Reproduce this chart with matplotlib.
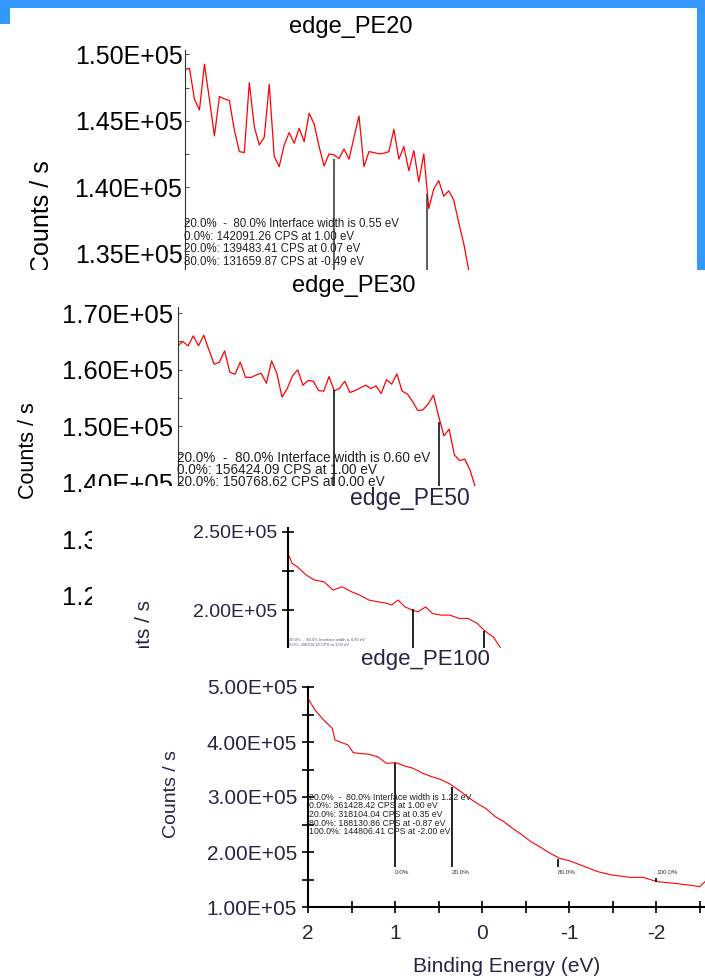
import numpy as np
import matplotlib
matplotlib.use("Agg")
import matplotlib.pyplot as plt
from matplotlib.patches import Rectangle
from matplotlib.ticker import FixedLocator, FixedFormatter
from matplotlib.transforms import Bbox, TransformedBbox

plt.rcParams['font.family'] = ['Liberation Sans', 'DejaVu Sans']

# =========================
# DATA (counts in kCPS, energy in eV)
# =========================
pe20_cps = [148.82, 148.95, 146.62, 145.81, 149.25, 146.6, 143.86, 146.82, 146.64, 146.52,
            144.31, 142.68, 142.61, 147.87, 144.56, 143.18, 143.76, 147.74, 142.31, 141.55,
            143.18, 144.11, 143.31, 144.44, 143.43, 145.56, 144.76, 143.06, 141.60, 142.51,
            142.43, 142.16, 142.88, 142.11, 143.76, 145.36, 141.55, 142.68, 142.61, 142.51,
            142.56, 142.68, 144.36, 142.11, 143.06, 141.25, 142.76, 140.40, 142.51, 138.40,
            139.88, 140.50, 139.32, 139.73, 139.05, 137.35, 135.79, 133.79, 131.5]
pe20_start, pe20_step = 2.5, 0.05
pe20_mark_ev = [1.00, 0.07, -0.49]
pe20_mark_cps = [142.09, 139.48, 131.66]
pe20_yticks = [135, 140, 145, 150]
pe20_ylabels = ['1.35E+05', '1.40E+05', '1.45E+05', '1.50E+05']
pe20_lines = ['20.0%  -  80.0% Interface width is 0.55 eV',
              '0.0%: 142091.26 CPS at 1.00 eV',
              '20.0%: 139483.41 CPS at 0.07 eV',
              '80.0%: 131659.87 CPS at -0.49 eV']

pe30_cps = [164.22, 164.99, 164.22, 165.99, 164.22, 166.11, 163.51, 160.97, 161.33, 163.33,
            159.56, 159.20, 161.33, 158.67, 158.61, 159.03, 159.38, 157.61, 161.56, 159.38,
            155.13, 156.67, 158.91, 159.97, 157.26, 158.08, 157.96, 156.31, 156.19, 158.79,
            156.25, 156.67, 157.96, 155.96, 156.31, 156.78, 157.26, 156.67, 157.14, 155.78,
            158.26, 157.43, 159.26, 156.19, 155.72, 154.37, 152.77, 152.89, 153.95, 155.49,
            151.71, 148.29, 149.47, 144.93, 143.92, 144.16, 142.27, 139.20, 135.5]
pe30_start, pe30_step = 2.5, 0.05
pe30_mark_ev = [1.00, 0.00]
pe30_mark_cps = [156.42, 150.77]
pe30_yticks = [120, 130, 140, 150, 160, 170]
pe30_ylabels = ['1.20E+05', '1.30E+05', '1.40E+05', '1.50E+05', '1.60E+05', '1.70E+05']
pe30_lines = ['20.0%  -  80.0% Interface width is 0.60 eV',
              '0.0%: 156424.09 CPS at 1.00 eV',
              '20.0%: 150768.62 CPS at 0.00 eV']

pe50_energy = [2.50, 2.45, 2.39, 2.28, 2.18, 2.07, 1.96, 1.85, 1.74, 1.64, 1.53, 1.42, 1.31, 1.26, 1.18,
               1.10, 0.99, 0.94, 0.85, 0.77, 0.67, 0.56, 0.45, 0.34, 0.23, 0.15, 0.10, 0.04, -0.04, -0.09]
pe50_cps = [236.2, 229.8, 227.7, 222.3, 219.1, 218.1, 212.8, 214.9, 211.7, 209.6, 206.4, 205.3, 204.3,
            203.2, 206.4, 202.1, 199.6, 198.9, 202.1, 197.9, 196.8, 196.8, 194.7, 194.7, 191.5, 187.2,
            185.1, 183.0, 176.6, 170.2]
pe50_mark_ev = [1.00, 0.15]
pe50_mark_cps = [200.7, 186.6]
pe50_yticks = [200, 250]
pe50_ylabels = ['2.00E+05', '2.50E+05']
pe50_lines = ['20.0%  -  80.0% Interface width is 0.85 eV',
              '0.0%: 200704.18 CPS at 1.00 eV']

pe100_energy = [2.00, 1.92, 1.82, 1.72, 1.69, 1.61, 1.54, 1.48, 1.41, 1.30, 1.20, 1.10, 0.99, 0.89,
                0.79, 0.68, 0.58, 0.48, 0.37, 0.27, 0.17, 0.06, -0.04, -0.15, -0.25, -0.35, -0.46,
                -0.56, -0.66, -0.77, -0.89, -1.00, -1.13, -1.23, -1.33, -1.49, -1.70, -1.85, -2.01,
                -2.21, -2.37, -2.50, -2.56]
pe100_cps = [479.4, 458.2, 440.0, 424.8, 403.6, 398.8, 394.5, 380.6, 379.4, 377.6, 373.3, 361.2,
             362.4, 356.4, 352.1, 343.0, 337.0, 332.1, 323.6, 312.7, 300.6, 288.5, 279.4, 264.2,
             255.2, 243.0, 230.9, 218.8, 209.7, 198.8, 188.5, 184.2, 176.4, 170.3, 164.2, 158.2,
             153.9, 153.9, 146.1, 143.0, 140.0, 137.0, 146.1]
pe100_mark_ev = [1.00, 0.35, -0.87, -2.00]
pe100_mark_cps = [361.43, 318.10, 188.13, 144.81]
pe100_mark_end = [173, 173, 173, 153]
pe100_mark_labels = ['0.0%', '20.0%', '80.0%', '100.0%']
pe100_yticks = [100, 200, 300, 400, 500]
pe100_ylabels = ['1.00E+05', '2.00E+05', '3.00E+05', '4.00E+05', '5.00E+05']
pe100_xticks = [2, 1, 0, -1, -2]
pe100_xlabels = ['2', '1', '0', '-1', '-2']
pe100_lines = ['20.0%  -  80.0% Interface width is 1.22 eV',
               '0.0%: 361428.42 CPS at 1.00 eV',
               '20.0%: 318104.04 CPS at 0.35 eV',
               '80.0%: 188130.86 CPS at -0.87 eV',
               '100.0%: 144806.41 CPS at -2.00 eV']

pe20_energy = np.round(pe20_start - pe20_step * np.arange(len(pe20_cps)), 2)
pe30_energy = np.round(pe30_start - pe30_step * np.arange(len(pe30_cps)), 2)

# =========================
# Layout helpers (pixels -> figure fraction)
# =========================
W, H = 705, 980
fig = plt.figure(figsize=(W / 100, H / 100), dpi=100)
fig.patch.set_facecolor('white')


def rect(x0, y0, x1, y1):
    return [x0 / W, 1 - y1 / H, (x1 - x0) / W, (y1 - y0) / H]


def fx(x):
    return x / W


def fy(y):
    return 1 - y / H


def cover(x0, y0, x1, y1, z, color='white'):
    fig.add_artist(Rectangle((fx(x0), fy(y1)), (x1 - x0) / W, (y1 - y0) / H,
                             transform=fig.transFigure, facecolor=color,
                             edgecolor='none', zorder=z))


def clip_to(x0, y0, x1, y1):
    return TransformedBbox(Bbox([[fx(x0), fy(y1)], [fx(x1), fy(y0)]]), fig.transFigure)


def set_yticks(ax, major, labels, minor):
    ax.yaxis.set_major_locator(FixedLocator(major))
    ax.yaxis.set_major_formatter(FixedFormatter(labels))
    ax.yaxis.set_minor_locator(FixedLocator(minor))


def only_left(ax, lw, color):
    for s in ['top', 'right', 'bottom']:
        ax.spines[s].set_visible(False)
    ax.spines['left'].set_linewidth(lw)
    ax.spines['left'].set_color(color)
    ax.set_xticks([])


blue = '#3399ff'
dark = '#2a2345'

# blue window frame
cover(0, 0, 705, 8, 0.5, blue)
cover(0, 0, 10, 24, 0.5, blue)
cover(697, 0, 705, 271, 0.5, blue)

# =========================
# Panel 1: edge_PE20
# =========================
ax1 = fig.add_axes(rect(184.5, 50, 697, 270), zorder=1)
ax1.patch.set_visible(False)
ax1.plot(pe20_energy, pe20_cps, color='red', lw=0.9)
ax1.vlines(pe20_mark_ev, 120, pe20_mark_cps, color='#333333', lw=1.1)
ax1.set_xlim(2.5, -2.64)
ax1.set_ylim(133.78, 150.32)
set_yticks(ax1, pe20_yticks, pe20_ylabels, [137.5, 142.5, 147.5])
ax1.tick_params(axis='y', which='both', direction='in', length=3, width=0.8,
                color='#555555', labelsize=18, pad=1.5)
only_left(ax1, 0.8, '#333333')
ax1.text(fx(351), fy(32.5), 'edge_PE20', transform=fig.transFigure,
         ha='center', va='baseline', fontsize=17)
yl1 = ax1.text(fx(42), fy(160), 'Counts / s', transform=fig.transFigure,
               rotation=90, ha='center', va='top', fontsize=18)
yl1.set_clip_box(clip_to(0, 8, 697, 270))
for i, s in enumerate(pe20_lines):
    ax1.text(fx(184), fy(224 + 12.6 * i), s, transform=fig.transFigure,
             ha='left', va='center', fontsize=8.3, color='#222222')

# =========================
# Panel 2: edge_PE30
# =========================
cover(0, 270, 705, 980, 2)
ax2 = fig.add_axes(rect(177.6, 307, 705, 625), zorder=3)
ax2.patch.set_visible(False)
ax2.plot(pe30_energy, pe30_cps, color='red', lw=0.9)
ax2.vlines(pe30_mark_ev, 100, pe30_mark_cps, color='black', lw=1.1)
ax2.set_xlim(2.5, -2.55)
ax2.set_ylim(114.8, 171.1)
set_yticks(ax2, pe30_yticks, pe30_ylabels, [115, 125, 135, 145, 155, 165])
ax2.tick_params(axis='y', which='both', direction='in', length=3, width=0.8,
                color='#555555', labelsize=18.5, pad=3.3)
only_left(ax2, 0.8, '#333333')
# the two lowest labels sit under the PE50 window, only their left ends show
for tick in ax2.yaxis.get_major_ticks()[:2]:
    tick.label1.set_clip_on(True)
    tick.label1.set_clip_box(clip_to(0, 270, 92, 648))
ax2.text(fx(354), fy(291.7), 'edge_PE30', transform=fig.transFigure,
         ha='center', va='baseline', fontsize=17)
ax2.text(fx(28), fy(451), 'Counts / s', transform=fig.transFigure,
         rotation=90, ha='center', va='center', fontsize=15.5)
for i, s in enumerate(pe30_lines):
    ax2.text(fx(177), fy(458 + 12.2 * i), s, transform=fig.transFigure,
             ha='left', va='center', fontsize=9.8, color='#222222')

# =========================
# Panel 3: edge_PE50
# =========================
cover(92, 486, 705, 648, 4)
ax3 = fig.add_axes(rect(288, 528, 705, 648), zorder=5)
ax3.patch.set_visible(False)
ax3.plot(pe50_energy, pe50_cps, color='red', lw=0.8)
ax3.vlines(pe50_mark_ev, 150, pe50_mark_cps, color='black', lw=1.2)
ax3.set_xlim(2.5, -2.5)
ax3.set_ylim(175.8, 252.4)
set_yticks(ax3, pe50_yticks, pe50_ylabels, [225])
ax3.tick_params(axis='y', which='both', direction='inout', length=9, width=1.2,
                color='black', labelsize=14, labelcolor=dark, pad=3.3)
only_left(ax3, 1.5, 'black')
ax3.text(fx(410), fy(505), 'edge_PE50', transform=fig.transFigure,
         ha='center', va='baseline', fontsize=16.5, color=dark)
yl3 = ax3.text(fx(145), fy(600), 'Counts / s', transform=fig.transFigure,
               rotation=90, ha='center', va='top', fontsize=15, color=dark)
yl3.set_clip_box(clip_to(92, 486, 705, 648))
for i, s in enumerate(pe50_lines):
    ax3.text(fx(289), fy(640 + 4.5 * i), s, transform=fig.transFigure,
             ha='left', va='center', fontsize=3, color='#555577')

# =========================
# Panel 4: edge_PE100
# =========================
cover(0, 648, 705, 980, 6)
ax4 = fig.add_axes(rect(308, 687, 705, 907), zorder=7)
ax4.patch.set_visible(False)
ax4.plot(pe100_energy, pe100_cps, color='red', lw=0.8)
ax4.vlines(pe100_mark_ev, pe100_mark_end, pe100_mark_cps, color='black', lw=1.2)
for ev, lab in zip(pe100_mark_ev, pe100_mark_labels):
    ax4.text(ev, 163.6, lab, ha='left', va='center', fontsize=4.5, color='#333333')
ax4.set_xlim(2, -2.56)
ax4.set_ylim(100, 500)
set_yticks(ax4, pe100_yticks, pe100_ylabels, [150, 250, 350, 450])
ax4.xaxis.set_major_locator(FixedLocator(pe100_xticks))
ax4.xaxis.set_major_formatter(FixedFormatter(pe100_xlabels))
ax4.xaxis.set_minor_locator(FixedLocator([1.5, 0.5, -0.5, -1.5, -2.5]))
ax4.tick_params(axis='y', which='both', direction='inout', length=9, width=1.2,
                color='black', labelsize=15, labelcolor=dark, pad=3.3)
ax4.tick_params(axis='x', which='both', direction='inout', length=9, width=1.2,
                color='black', labelsize=15, labelcolor=dark, pad=8)
for s in ['top', 'right']:
    ax4.spines[s].set_visible(False)
for s in ['left', 'bottom']:
    ax4.spines[s].set_linewidth(1.5)
ax4.text(fx(425), fy(665), 'edge_PE100', transform=fig.transFigure,
         ha='center', va='baseline', fontsize=16, color=dark)
ax4.text(fx(172), fy(794), 'Counts / s', transform=fig.transFigure,
         rotation=90, ha='center', va='center', fontsize=14, color=dark)
ax4.text(fx(507), fy(966), 'Binding Energy (eV)', transform=fig.transFigure,
         ha='center', va='center', fontsize=15, color=dark)
for i, s in enumerate(pe100_lines):
    ax4.text(fx(309), fy(797 + 8.75 * i), s, transform=fig.transFigure,
             ha='left', va='center', fontsize=6.3, color='#222222')

fig.savefig('out.png', dpi=100)
